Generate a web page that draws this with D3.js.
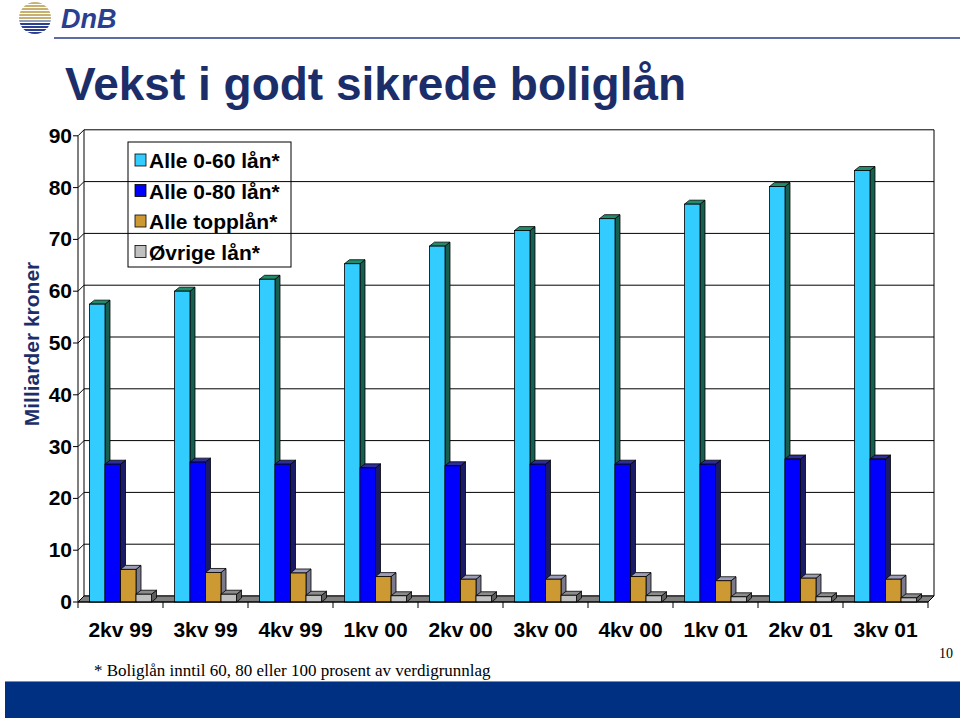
<!DOCTYPE html>
<html>
<head>
<meta charset="utf-8">
<script src="https://cdn.jsdelivr.net/npm/d3@7"></script>
<style>
  body { margin: 0; background: #fff; }
  svg { display: block; font-family: Arial, "Liberation Sans", sans-serif; }
</style>
</head>
<body>
<svg id="svg" width="960" height="723"></svg>
<script>
// ---- data
var categories = ["2kv 99", "3kv 99", "4kv 99", "1kv 00", "2kv 00", "3kv 00", "4kv 00", "1kv 01", "2kv 01", "3kv 01"];
var seriesNames = ["Alle 0-60 lån*", "Alle 0-80 lån*", "Alle topplån*", "Øvrige lån*"];
var alle60  = [57.5, 60.0, 62.3, 65.3, 68.7, 71.7, 74.0, 76.8, 80.2, 83.3];
var alle80  = [26.6, 27.0, 26.6, 25.9, 26.3, 26.6, 26.6, 26.6, 27.6, 27.6];
var topplan = [6.3, 5.7, 5.6, 4.9, 4.4, 4.4, 4.9, 4.1, 4.6, 4.4];
var ovrige  = [1.5, 1.5, 1.3, 1.2, 1.2, 1.3, 1.2, 1.0, 1.0, 0.8];
var yTicks  = [0, 10, 20, 30, 40, 50, 60, 70, 80, 90];

var seriesValues = [alle60, alle80, topplan, ovrige];
// face / side / top colours per series
var faceCol = ["#33ccff", "#0000ff", "#cc9933", "#c0c0c0"];
var sideCol = ["#17604f", "#1a1a66", "#7a7a8c", "#5f5f5f"];
var topCol  = ["#1f8c6c", "#2e2e99", "#9c9cb8", "#8c8c8c"];

var svg = d3.select("svg#svg");

// ---- header: logo + rule
var logo = svg.append("g").attr("transform", "translate(35,18)");
logo.append("clipPath").attr("id", "logoclip")
    .append("circle").attr("r", 16);
var stripes = logo.append("g").attr("clip-path", "url(#logoclip)");
d3.range(-16, 17, 3).forEach(function(yy, i) {
    stripes.append("rect")
        .attr("x", -17).attr("y", yy).attr("width", 34).attr("height", 2)
        .attr("fill", yy < 0 ? "#c8b070" : (yy < 4 ? "#8f9fbf" : "#2a3f8f"));
});
svg.append("text")
    .attr("x", 61).attr("y", 28)
    .attr("font-size", 27).attr("font-weight", "bold").attr("font-style", "italic")
    .attr("fill", "#2a3f8f")
    .text("DnB");
svg.append("line")
    .attr("x1", 54).attr("x2", 960).attr("y1", 38).attr("y2", 38)
    .attr("stroke", "#2a3a8a").attr("stroke-width", 1.5);

// ---- title
svg.append("text")
    .attr("x", 65).attr("y", 100)
    .attr("font-size", 46).attr("font-weight", "bold")
    .attr("fill", "#1c2e6a")
    .text("Vekst i godt sikrede boliglån");

// ---- scales
var x0 = d3.scaleBand().domain(categories).range([78, 928]).padding(0);
var x1 = d3.scaleBand().domain(d3.range(seriesNames.length))
    .range([0, x0.bandwidth()]).paddingInner(0).paddingOuter(0.74);
var y = d3.scaleLinear().domain([0, 90]).range([602, 135.8]);

var wdx = 6, wdy = 6;   // wall depth
var bdx = 5, bdy = 4;   // bar depth
var xL = x0.range()[0], xR = x0.range()[1];

var plot = svg.append("g").attr("id", "plot-area");

// back wall gridlines
plot.selectAll("line.grid").data(yTicks).enter()
    .append("line").attr("class", "grid")
    .attr("x1", xL + wdx).attr("x2", xR + wdx)
    .attr("y1", function(d) { return y(d) - wdy; })
    .attr("y2", function(d) { return y(d) - wdy; })
    .attr("stroke", "#000").attr("stroke-width", 1);
// side wall diagonals
plot.selectAll("line.diag").data(yTicks).enter()
    .append("line").attr("class", "diag")
    .attr("x1", xL).attr("x2", xL + wdx)
    .attr("y1", function(d) { return y(d); })
    .attr("y2", function(d) { return y(d) - wdy; })
    .attr("stroke", "#000");
// wall frame
plot.append("line").attr("x1", xL + wdx).attr("x2", xL + wdx)
    .attr("y1", y(0) - wdy).attr("y2", y(90) - wdy).attr("stroke", "#000");
plot.append("line").attr("x1", xR + wdx).attr("x2", xR + wdx)
    .attr("y1", y(0) - wdy).attr("y2", y(90) - wdy).attr("stroke", "#000");

// floor
plot.append("polygon")
    .attr("points", [[xL, y(0)], [xR, y(0)], [xR + wdx, y(0) - wdy], [xL + wdx, y(0) - wdy]].join(" "))
    .attr("fill", "#808080").attr("stroke", "#000").attr("stroke-width", 1);

// front y axis line + ticks
plot.append("line").attr("x1", xL).attr("x2", xL)
    .attr("y1", y(0)).attr("y2", y(90)).attr("stroke", "#000");
plot.selectAll("line.ytick").data(yTicks).enter()
    .append("line").attr("class", "ytick")
    .attr("x1", xL - 5).attr("x2", xL)
    .attr("y1", function(d) { return y(d); })
    .attr("y2", function(d) { return y(d); })
    .attr("stroke", "#000");
plot.selectAll("text.ylab").data(yTicks).enter()
    .append("text").attr("class", "ylab")
    .attr("x", xL - 6).attr("y", function(d) { return y(d) + 7; })
    .attr("text-anchor", "end").attr("font-size", 21).attr("font-weight", "bold")
    .text(function(d) { return d; });

// bars
categories.forEach(function(cat, ci) {
    seriesValues.forEach(function(vals, si) {
        var v = vals[ci];
        var bx = x0(cat) + x1(si), bw = x1.bandwidth();
        var top = y(v), bot = y(0);
        var g = plot.append("g").attr("class", "bar");
        // side
        g.append("polygon")
            .attr("points", [[bx + bw, bot], [bx + bw + bdx, bot - bdy], [bx + bw + bdx, top - bdy], [bx + bw, top]].join(" "))
            .attr("fill", sideCol[si]).attr("stroke", "#000").attr("stroke-width", 0.8);
        // top
        g.append("polygon")
            .attr("points", [[bx, top], [bx + bdx, top - bdy], [bx + bw + bdx, top - bdy], [bx + bw, top]].join(" "))
            .attr("fill", topCol[si]).attr("stroke", "#000").attr("stroke-width", 0.8);
        // front
        g.append("rect")
            .attr("x", bx).attr("y", top).attr("width", bw).attr("height", bot - top)
            .attr("fill", faceCol[si]).attr("stroke", "#000").attr("stroke-width", 0.8);
    });
});

// x axis front line + ticks + labels
plot.append("line").attr("x1", xL).attr("x2", xR)
    .attr("y1", y(0)).attr("y2", y(0)).attr("stroke", "#000");
var bounds = categories.map(function(c) { return x0(c); }).concat([xR]);
plot.selectAll("line.xtick").data(bounds).enter()
    .append("line").attr("class", "xtick")
    .attr("x1", function(d) { return d; }).attr("x2", function(d) { return d; })
    .attr("y1", y(0)).attr("y2", y(0) + 6)
    .attr("stroke", "#000");
plot.selectAll("text.xlab").data(categories).enter()
    .append("text").attr("class", "xlab")
    .attr("x", function(d) { return x0(d) + x0.bandwidth() / 2; })
    .attr("y", 637)
    .attr("text-anchor", "middle").attr("font-size", 21).attr("font-weight", "bold")
    .text(function(d) { return d; });

// y axis title
svg.append("text")
    .attr("transform", "translate(39,344) rotate(-90)")
    .attr("text-anchor", "middle").attr("font-size", 21).attr("font-weight", "bold")
    .attr("fill", "#1c2e6a")
    .text("Milliarder kroner");

// legend
var leg = svg.append("g").attr("transform", "translate(128,142)");
leg.append("rect").attr("width", 163).attr("height", 125)
    .attr("fill", "none").attr("stroke", "#000").attr("stroke-width", 1);
seriesNames.forEach(function(name, i) {
    var ly = 19 + i * 30.5;
    leg.append("rect")
        .attr("x", 7).attr("y", ly - 7).attr("width", 11).attr("height", 12)
        .attr("fill", faceCol[i]).attr("stroke", "#000").attr("stroke-width", 0.8);
    leg.append("text")
        .attr("x", 21).attr("y", ly + 7)
        .attr("font-size", 21).attr("font-weight", "bold")
        .text(name);
});

// footer
svg.append("text")
    .attr("x", 94).attr("y", 676)
    .attr("font-family", "'Times New Roman', 'Liberation Serif', serif").attr("font-size", 17)
    .text("* Boliglån inntil 60, 80 eller 100 prosent av verdigrunnlag");
svg.append("text")
    .attr("x", 953).attr("y", 658).attr("text-anchor", "end")
    .attr("font-family", "'Times New Roman', 'Liberation Serif', serif").attr("font-size", 14)
    .text("10");
svg.append("rect")
    .attr("x", 5).attr("y", 681).attr("width", 955).attr("height", 37)
    .attr("fill", "#003082");
svg.append("line")
    .attr("x1", 5).attr("x2", 960).attr("y1", 681.5).attr("y2", 681.5)
    .attr("stroke", "#6f8fc0").attr("stroke-width", 1);
</script>
</body>
</html>
